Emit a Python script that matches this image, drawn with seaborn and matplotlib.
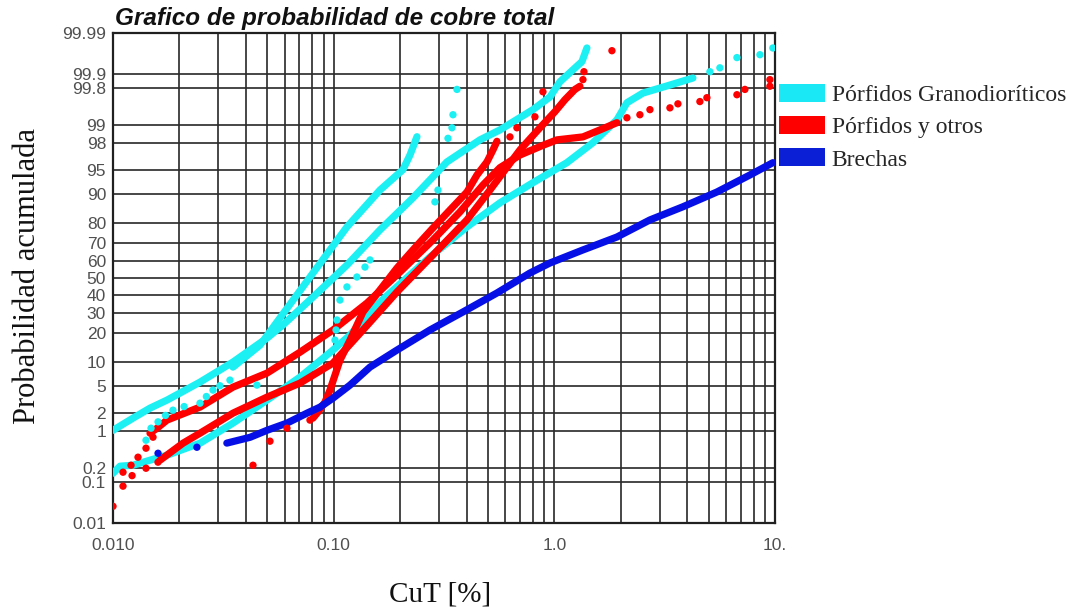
import numpy as np
import matplotlib
matplotlib.use("Agg")
import matplotlib.pyplot as plt
import seaborn as sns
from matplotlib.patches import Patch
from matplotlib.ticker import FixedLocator, FixedFormatter, NullFormatter
from statistics import NormalDist

# ---------------- data (CuT in %, cumulative probability in %) ----------------
# Pórfidos Granodioríticos (cyan)
cyan_top_x = [0.0100, 0.01232, 0.01471, 0.01757, 0.02479, 0.03497, 0.0499, 0.0589, 0.0806, 0.1149,
              0.1621, 0.2287, 0.3262, 0.4602, 0.5668, 0.7998, 0.955, 1.060, 1.214, 1.334, 1.405]
cyan_top_p = [1.04, 1.67, 2.41, 3.19, 5.70, 10.1, 18.1, 23.8, 38.6, 57.8,
              76.7, 88.8, 96.1, 98.2, 98.77, 99.47, 99.70, 99.855, 99.921, 99.949, 99.976]

cyan_steep_x = [0.03497, 0.04636, 0.05710, 0.08058, 0.1149, 0.1621, 0.2061, 0.2217, 0.2385]
cyan_steep_p = [8.81, 15.4, 27.2, 53.0, 78.1, 90.9, 95.0, 96.9, 98.4]

cyan_low_x = [0.0100, 0.01076, 0.01232, 0.01471, 0.01757, 0.02479, 0.03497, 0.04987, 0.07036, 0.0993,
              0.1186, 0.1621, 0.2732, 0.4018, 0.5668, 0.7998, 1.140, 1.496, 1.921, 2.133, 2.520,
              3.341, 4.246]
cyan_low_p = [0.152, 0.214, 0.224, 0.284, 0.357, 0.608, 1.38, 3.19, 6.62, 13.7,
              19.3, 35.8, 62.5, 78.1, 87.3, 92.6, 96.0, 98.0, 99.18, 99.61, 99.75,
              99.83, 99.88]

cyan_pts_x = [0.01411, 0.01487, 0.0160, 0.0173, 0.01870, 0.0210, 0.02479, 0.0265, 0.02839, 0.0305,
              0.03389, 0.0449, 0.1014, 0.1025, 0.1035, 0.1068, 0.1149, 0.1275, 0.1387, 0.1461,
              0.2877, 0.2969, 0.3296, 0.3436, 0.3473, 0.3620, 5.070, 5.627, 6.722, 8.545, 9.78]
cyan_pts_p = [0.69, 1.13, 1.45, 1.85, 2.24, 2.55, 2.87, 3.60, 4.44, 5.10,
              6.06, 5.20, 17.3, 21.5, 26.2, 36.9, 44.6, 50.6, 56.6, 60.8,
              87.6, 90.9, 98.3, 98.87, 99.34, 99.79, 99.913, 99.929, 99.959, 99.965, 99.976]

# Pórfidos y otros (red)
red_flat_x = [0.01471, 0.01583, 0.01757, 0.02479, 0.03497, 0.04987, 0.07036, 0.0993, 0.1416, 0.1997,
              0.2818, 0.3735, 0.4749, 0.5668, 0.6983, 0.8878, 1.028, 1.348, 1.609, 1.921]
red_flat_p = [0.924, 1.13, 1.55, 2.50, 4.88, 7.44, 13.0, 21.5, 35.2, 53.6,
              71.8, 84.2, 92.1, 95.3, 96.9, 97.8, 98.2, 98.39, 98.77, 99.08]

red_top_x = [0.01633, 0.02076, 0.02479, 0.03497, 0.04987, 0.07036, 0.0993, 0.1358, 0.1936, 0.2732,
             0.4018, 0.5107, 0.6983, 0.8604, 1.006, 1.117, 1.240, 1.306]
red_top_p = [0.284, 0.608, 0.924, 2.01, 3.53, 5.53, 9.82, 21.5, 41.6, 61.9,
             81.1, 90.9, 97.4, 98.87, 99.42, 99.66, 99.79, 99.82]

red_steep_x = [0.08058, 0.0849, 0.0913, 0.09622, 0.1068, 0.1186, 0.1358, 0.1621, 0.1936, 0.2287,
               0.2818, 0.3365, 0.4018, 0.4460, 0.4951, 0.5270, 0.5495]
red_steep_p = [1.67, 2.09, 2.97, 4.44, 10.6, 17.3, 30.3, 42.8, 56.0, 66.5,
               77.6, 84.9, 90.4, 94.1, 96.1, 97.4, 98.1]

red_pts_x = [0.0100, 0.0111, 0.0122, 0.01411, 0.01599, 0.0111, 0.01207, 0.01298, 0.01411, 0.01518,
             0.04309, 0.05145, 0.06143, 0.07809, 0.6294, 0.6768, 0.8168, 0.8878, 1.348, 1.362,
             1.824, 2.133, 2.442, 2.712, 3.341, 3.631, 4.567, 4.913, 6.722, 7.305, 9.483, 9.483]
red_pts_p = [0.0265, 0.079, 0.135, 0.194, 0.259, 0.160, 0.224, 0.326, 0.489, 0.784,
             0.224, 0.662, 1.13, 1.55, 98.39, 98.87, 99.28, 99.765, 99.87, 99.913,
             99.972, 99.25, 99.34, 99.47, 99.51, 99.59, 99.63, 99.69, 99.73, 99.79, 99.87, 99.82]

# Brechas (blue)
blue_x = [0.0328, 0.0418, 0.0499, 0.0614, 0.0757, 0.0867, 0.0993, 0.1186, 0.1461, 0.1936,
          0.2732, 0.3853, 0.5495, 0.775, 0.955, 1.348, 1.921, 2.712, 3.82, 5.45, 7.69, 9.78]
blue_p = [0.61, 0.78, 1.04, 1.38, 2.01, 2.50, 3.41, 5.20, 8.81, 13.7,
          21.5, 30.3, 41.0, 53.0, 59.0, 66.5, 73.3, 81.1, 86.0, 90.4, 94.1, 96.0]
blue_pts_x = [0.0160, 0.0240]
blue_pts_p = [0.39, 0.51]

# axes ticks
y_ticks = [0.01, 0.1, 0.2, 1, 2, 5, 10, 20, 30, 40, 50, 60, 70, 80, 90, 95, 98, 99, 99.8, 99.9, 99.99]
y_tick_labels = ["0.01", "0.1", "0.2", "1", "2", "5", "10", "20", "30", "40", "50", "60", "70",
                 "80", "90", "95", "98", "99", "99.8", "99.9", "99.99"]
x_ticks = [0.01, 0.1, 1.0, 10.0]
x_tick_labels = ["0.010", "0.10", "1.0", "10."]

legend_labels = ["Pórfidos Granodioríticos", "Pórfidos y otros", "Brechas"]

# ---------------- probability scale ----------------
_nd = NormalDist()
_inv_cdf = np.vectorize(lambda v: _nd.inv_cdf(v) if np.isfinite(v) else np.nan, otypes=[float])
_cdf = np.vectorize(lambda v: _nd.cdf(v) if np.isfinite(v) else np.nan, otypes=[float])


def prob_forward(p):
    a = np.clip(np.asarray(p, dtype=float) / 100.0, 1e-12, 1 - 1e-12)
    return _inv_cdf(a)


def prob_inverse(z):
    a = np.clip(np.asarray(z, dtype=float), -8, 8)
    return _cdf(a) * 100.0


# ---------------- figure ----------------
sns.set_theme(style="white")
plt.rcParams["font.family"] = ["Liberation Sans", "DejaVu Sans"]

W, H = 1084, 611
fig = plt.figure(figsize=(W / 100, H / 100), dpi=100)
ax = fig.add_axes([113 / W, 1 - 523 / H, (775 - 113) / W, (523 - 33) / H])
ax.set_xscale("log")
ax.set_yscale("function", functions=(prob_forward, prob_inverse))
ax.set_xlim(0.01, 10)
ax.set_ylim(0.01, 99.99)

CYAN = "#1CF0F2"
RED = "#FF0000"
BLUE = "#0610E6"
LW = 5.2


def dense(xs, ps, color):
    sns.lineplot(x=xs, y=ps, ax=ax, color=color, linewidth=LW, sort=False,
                 estimator=None, solid_capstyle="round", solid_joinstyle="round", zorder=3)


def sparse(xs, ps, color):
    sns.scatterplot(x=xs, y=ps, ax=ax, color=color, s=28, edgecolor="none", zorder=4)


dense(cyan_top_x, cyan_top_p, CYAN)
dense(cyan_steep_x, cyan_steep_p, CYAN)
dense(cyan_low_x, cyan_low_p, CYAN)
sparse(cyan_pts_x, cyan_pts_p, CYAN)

dense(red_flat_x, red_flat_p, RED)
dense(red_top_x, red_top_p, RED)
dense(red_steep_x, red_steep_p, RED)
sparse(red_pts_x, red_pts_p, RED)

dense(blue_x, blue_p, BLUE)
sparse(blue_pts_x, blue_pts_p, BLUE)

# ticks & grid
ax.xaxis.set_major_locator(FixedLocator(x_ticks))
ax.xaxis.set_major_formatter(FixedFormatter(x_tick_labels))
minor_x = [m * d for d in (0.01, 0.1, 1.0) for m in range(2, 10)]
ax.xaxis.set_minor_locator(FixedLocator(minor_x))
ax.xaxis.set_minor_formatter(NullFormatter())
ax.yaxis.set_major_locator(FixedLocator(y_ticks))
ax.yaxis.set_major_formatter(FixedFormatter(y_tick_labels))
ax.yaxis.set_minor_locator(FixedLocator([]))

GRID = "#2a2a2a"
ax.grid(True, which="both", axis="x", color=GRID, linewidth=1.35, alpha=0.9)
ax.grid(True, which="major", axis="y", color=GRID, linewidth=1.35, alpha=0.9)
ax.set_axisbelow(True)

ax.tick_params(axis="both", which="both", length=0, labelsize=12.5, labelcolor="#505050")
ax.tick_params(axis="x", pad=11)
ax.tick_params(axis="y", pad=5)
for s in ax.spines.values():
    s.set_visible(True)
    s.set_color("#202020")
    s.set_linewidth(1.6)
ax.set_xlabel("")
ax.set_ylabel("")

# texts
fig.text(115 / W, 1 - 18 / H, "Grafico de probabilidad de cobre total", ha="left", va="center",
         fontsize=17.5, fontweight="bold", fontstyle="italic", family="Liberation Sans", color="#111111")
fig.text(28 / W, 1 - 276 / H, "Probabilidad acumulada", rotation=90, ha="center", va="center",
         fontsize=22, family="Liberation Serif", color="#111111")
fig.text(440 / W, 1 - 594 / H, "CuT [%]", ha="center", va="center",
         fontsize=21, family="Liberation Serif", color="#111111")

handles = [Patch(facecolor="#1AE8F5", edgecolor="none"),
           Patch(facecolor=RED, edgecolor="none"),
           Patch(facecolor="#0A1FD6", edgecolor="none")]
fig.legend(handles, legend_labels, loc="upper left", bbox_to_anchor=(779 / W, 1 - 84 / H),
           frameon=False, prop={"family": "Liberation Serif", "size": 17},
           handlelength=1.95, handleheight=0.8, handletextpad=0.28, labelspacing=0.42,
           borderaxespad=0, borderpad=0)

fig.savefig("out.png", dpi=100)
